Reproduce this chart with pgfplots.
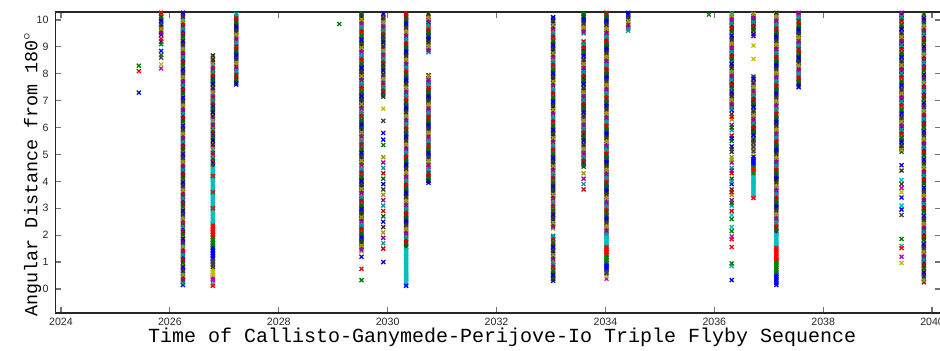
\documentclass[border=0pt]{standalone}
\usepackage{pgfplots}
\pgfplotsset{compat=1.18}
\usepackage{fontspec}
\setmainfont{Liberation Sans}
\newfontfamily\cour{Liberation Mono}
\definecolor{mb}{rgb}{0,0,1}
\definecolor{mg}{rgb}{0,0.5,0}
\definecolor{mr}{rgb}{1,0,0}
\definecolor{mc}{rgb}{0,0.75,0.75}
\definecolor{mm}{rgb}{0.75,0,0.75}
\definecolor{my}{rgb}{0.75,0.75,0}
\definecolor{mk}{rgb}{0.25,0.25,0.25}
\pgfplotsset{colormap={mlab}{rgb=(0,0,1) rgb=(0,0.5,0) rgb=(1,0,0) rgb=(0,0.75,0.75) rgb=(0.75,0,0.75) rgb=(0.75,0.75,0) rgb=(0.25,0.25,0.25)}}
\begin{document}
\begin{tikzpicture}
\begin{axis}[
 scale only axis, width=442.75pt, height=150.5pt,
 xmin=2023.899, xmax=2040.165, ymin=-0.893, ymax=10.297,
 xtick={2024,2026,...,2040}, ytick={0,1,...,10},
 tick align=inside, major tick length=3pt,
 tick style={black!55, line width=0.6pt},
 axis line style={black!85, line width=0.6pt},
 /pgf/number format/1000 sep={}, /pgf/number format/assume math mode=true,
 ticklabel style={font=\fontsize{5.3}{6}\selectfont, text=black!85},
 xticklabel style={yshift=1pt},
 xlabel={Time of Callisto-Ganymede-Perijove-Io Triple Flyby Sequence},
 ylabel={Angular Distance from 180$^{\circ}$},
 every axis x label/.style={at={([xshift=2pt,yshift=-15pt]axis description cs:0.5,0)}, anchor=base, font=\cour\fontsize{10}{12}\selectfont},
 every axis y label/.style={at={([xshift=-9pt,yshift=-5.75pt]axis description cs:0,0.5)}, rotate=90, anchor=base, font=\cour\fontsize{9.2}{11}\selectfont},
 colormap name=mlab, colormap access=piecewise constant, point meta min=0, point meta max=7,
 mark size=1.4pt,
]
\addplot[scatter, only marks, mark=x, mark options={line width=0.65pt}, point meta={mod(\coordindex,7)+0.5}] table[row sep=\\]{
x y\\
2025.84 9.45\\ 2025.84 9.6\\ 2025.84 9.75\\ 2025.84 9.9\\ 2025.84 10.05\\ 2025.84 10.2\\ 2025.84 10.3\\
2026.24 0.15\\ 2026.24 0.3\\ 2026.24 0.45\\ 2026.24 0.6\\ 2026.24 0.75\\ 2026.24 0.9\\ 2026.24 1.05\\ 2026.24 1.2\\
2026.24 1.35\\ 2026.24 1.5\\ 2026.24 1.65\\ 2026.24 1.8\\ 2026.24 1.95\\ 2026.24 2.1\\ 2026.24 2.25\\ 2026.24 2.4\\
2026.24 2.55\\ 2026.24 2.7\\ 2026.24 2.85\\ 2026.24 3\\ 2026.24 3.15\\ 2026.24 3.3\\ 2026.24 3.45\\ 2026.24 3.6\\
2026.24 3.75\\ 2026.24 3.9\\ 2026.24 4.05\\ 2026.24 4.2\\ 2026.24 4.35\\ 2026.24 4.5\\ 2026.24 4.65\\ 2026.24 4.8\\
2026.24 4.95\\ 2026.24 5.1\\ 2026.24 5.25\\ 2026.24 5.4\\ 2026.24 5.55\\ 2026.24 5.7\\ 2026.24 5.85\\ 2026.24 6\\
2026.24 6.15\\ 2026.24 6.3\\ 2026.24 6.45\\ 2026.24 6.6\\ 2026.24 6.75\\ 2026.24 6.9\\ 2026.24 7.05\\ 2026.24 7.2\\
2026.24 7.35\\ 2026.24 7.5\\ 2026.24 7.65\\ 2026.24 7.8\\ 2026.24 7.95\\ 2026.24 8.1\\ 2026.24 8.25\\ 2026.24 8.4\\
2026.24 8.55\\ 2026.24 8.7\\ 2026.24 8.85\\ 2026.24 9\\ 2026.24 9.15\\ 2026.24 9.3\\ 2026.24 9.45\\ 2026.24 9.6\\
2026.24 9.75\\ 2026.24 9.9\\ 2026.24 10.05\\ 2026.24 10.2\\ 2026.24 10.3\\
2026.79 4.55\\ 2026.79 4.7\\ 2026.79 4.85\\ 2026.79 5\\ 2026.79 5.15\\ 2026.79 5.3\\ 2026.79 5.45\\ 2026.79 5.6\\
2026.79 5.75\\ 2026.79 5.9\\ 2026.79 6.05\\ 2026.79 6.2\\ 2026.79 6.35\\ 2026.79 6.5\\ 2026.79 6.65\\ 2026.79 6.8\\
2026.79 6.95\\ 2026.79 7.1\\ 2026.79 7.25\\ 2026.79 7.4\\ 2026.79 7.55\\ 2026.79 7.7\\ 2026.79 7.85\\ 2026.79 8\\
2026.79 8.15\\ 2026.79 8.3\\ 2026.79 8.45\\ 2026.79 8.6\\ 2026.79 8.68\\
2027.22 7.6\\ 2027.22 7.75\\ 2027.22 7.9\\ 2027.22 8.05\\ 2027.22 8.2\\ 2027.22 8.35\\ 2027.22 8.5\\ 2027.22 8.65\\
2027.22 8.8\\ 2027.22 8.95\\ 2027.22 9.1\\ 2027.22 9.25\\ 2027.22 9.4\\ 2027.22 9.55\\ 2027.22 9.7\\ 2027.22 9.85\\
2027.22 10\\ 2027.22 10.15\\ 2027.22 10.3\\
2029.52 1.4\\ 2029.52 1.55\\ 2029.52 1.7\\ 2029.52 1.85\\ 2029.52 2\\ 2029.52 2.15\\ 2029.52 2.3\\ 2029.52 2.45\\
2029.52 2.6\\ 2029.52 2.75\\ 2029.52 2.9\\ 2029.52 3.05\\ 2029.52 3.2\\ 2029.52 3.35\\ 2029.52 3.5\\ 2029.52 3.65\\
2029.52 3.8\\ 2029.52 3.95\\ 2029.52 4.1\\ 2029.52 4.25\\ 2029.52 4.4\\ 2029.52 4.55\\ 2029.52 4.7\\ 2029.52 4.85\\
2029.52 5\\ 2029.52 5.15\\ 2029.52 5.3\\ 2029.52 5.45\\ 2029.52 5.6\\ 2029.52 5.75\\ 2029.52 5.9\\ 2029.52 6.05\\
2029.52 6.2\\ 2029.52 6.35\\ 2029.52 6.5\\ 2029.52 6.65\\ 2029.52 6.8\\ 2029.52 6.95\\ 2029.52 7.1\\ 2029.52 7.25\\
2029.52 7.4\\ 2029.52 7.55\\ 2029.52 7.7\\ 2029.52 7.85\\ 2029.52 8\\ 2029.52 8.15\\ 2029.52 8.3\\ 2029.52 8.45\\
2029.52 8.6\\ 2029.52 8.75\\ 2029.52 8.9\\ 2029.52 9.05\\ 2029.52 9.2\\ 2029.52 9.35\\ 2029.52 9.5\\ 2029.52 9.65\\
2029.52 9.8\\ 2029.52 9.95\\ 2029.52 10.1\\ 2029.52 10.25\\
2029.92 1.5\\ 2029.92 1.7\\ 2029.92 1.9\\ 2029.92 2.1\\ 2029.92 2.3\\ 2029.92 2.5\\ 2029.92 2.7\\ 2029.92 2.9\\
2029.92 3.1\\ 2029.92 3.3\\ 2029.92 3.5\\ 2029.92 3.7\\ 2029.92 3.9\\ 2029.92 4.1\\ 2029.92 4.3\\ 2029.92 4.5\\
2029.92 4.7\\ 2029.92 4.9\\
2029.92 7.15\\ 2029.92 7.3\\ 2029.92 7.45\\ 2029.92 7.6\\ 2029.92 7.75\\ 2029.92 7.9\\ 2029.92 8.05\\ 2029.92 8.2\\
2029.92 8.35\\ 2029.92 8.5\\ 2029.92 8.65\\ 2029.92 8.8\\ 2029.92 8.95\\ 2029.92 9.1\\ 2029.92 9.25\\ 2029.92 9.4\\
2029.92 9.55\\ 2029.92 9.7\\ 2029.92 9.85\\ 2029.92 10\\ 2029.92 10.15\\ 2029.92 10.3\\
2030.34 1.55\\ 2030.34 1.7\\ 2030.34 1.85\\ 2030.34 2\\ 2030.34 2.15\\ 2030.34 2.3\\ 2030.34 2.45\\ 2030.34 2.6\\
2030.34 2.75\\ 2030.34 2.9\\ 2030.34 3.05\\ 2030.34 3.2\\ 2030.34 3.35\\ 2030.34 3.5\\ 2030.34 3.65\\ 2030.34 3.8\\
2030.34 3.95\\ 2030.34 4.1\\ 2030.34 4.25\\ 2030.34 4.4\\ 2030.34 4.55\\ 2030.34 4.7\\ 2030.34 4.85\\ 2030.34 5\\
2030.34 5.15\\ 2030.34 5.3\\ 2030.34 5.45\\ 2030.34 5.6\\ 2030.34 5.75\\ 2030.34 5.9\\ 2030.34 6.05\\ 2030.34 6.2\\
2030.34 6.35\\ 2030.34 6.5\\ 2030.34 6.65\\ 2030.34 6.8\\ 2030.34 6.95\\ 2030.34 7.1\\ 2030.34 7.25\\ 2030.34 7.4\\
2030.34 7.55\\ 2030.34 7.7\\ 2030.34 7.85\\ 2030.34 8\\ 2030.34 8.15\\ 2030.34 8.3\\ 2030.34 8.45\\ 2030.34 8.6\\
2030.34 8.75\\ 2030.34 8.9\\ 2030.34 9.05\\ 2030.34 9.2\\ 2030.34 9.35\\ 2030.34 9.5\\ 2030.34 9.65\\ 2030.34 9.8\\
2030.34 9.95\\ 2030.34 10.1\\ 2030.34 10.25\\
2030.75 8.8\\ 2030.75 8.95\\ 2030.75 9.1\\ 2030.75 9.25\\ 2030.75 9.4\\ 2030.75 9.55\\ 2030.75 9.7\\ 2030.75 9.85\\
2030.75 10\\ 2030.75 10.15\\ 2030.75 10.3\\
2030.75 3.95\\ 2030.75 4.1\\ 2030.75 4.25\\ 2030.75 4.4\\ 2030.75 4.55\\ 2030.75 4.7\\ 2030.75 4.85\\ 2030.75 5\\
2030.75 5.15\\ 2030.75 5.3\\ 2030.75 5.45\\ 2030.75 5.6\\ 2030.75 5.75\\ 2030.75 5.9\\ 2030.75 6.05\\ 2030.75 6.2\\
2030.75 6.35\\ 2030.75 6.5\\ 2030.75 6.65\\ 2030.75 6.8\\ 2030.75 6.95\\ 2030.75 7.1\\ 2030.75 7.25\\ 2030.75 7.4\\
2030.75 7.55\\ 2030.75 7.7\\ 2030.75 7.85\\ 2030.75 7.95\\
2033.04 0.3\\ 2033.04 0.45\\ 2033.04 0.6\\ 2033.04 0.75\\ 2033.04 0.9\\ 2033.04 1.05\\ 2033.04 1.2\\ 2033.04 1.35\\
2033.04 1.5\\ 2033.04 1.65\\ 2033.04 1.8\\ 2033.04 1.95\\
2033.04 2.25\\ 2033.04 2.4\\ 2033.04 2.55\\ 2033.04 2.7\\ 2033.04 2.85\\ 2033.04 3\\ 2033.04 3.15\\ 2033.04 3.3\\
2033.04 3.45\\ 2033.04 3.6\\ 2033.04 3.75\\ 2033.04 3.9\\ 2033.04 4.05\\ 2033.04 4.2\\ 2033.04 4.35\\ 2033.04 4.5\\
2033.04 4.65\\ 2033.04 4.8\\ 2033.04 4.95\\ 2033.04 5.1\\ 2033.04 5.25\\ 2033.04 5.4\\ 2033.04 5.55\\ 2033.04 5.7\\
2033.04 5.85\\ 2033.04 6\\ 2033.04 6.15\\ 2033.04 6.3\\ 2033.04 6.45\\ 2033.04 6.6\\ 2033.04 6.75\\ 2033.04 6.9\\
2033.04 7.05\\ 2033.04 7.2\\ 2033.04 7.35\\ 2033.04 7.5\\ 2033.04 7.65\\ 2033.04 7.8\\ 2033.04 7.95\\ 2033.04 8.1\\
2033.04 8.25\\ 2033.04 8.4\\ 2033.04 8.55\\ 2033.04 8.7\\ 2033.04 8.85\\ 2033.04 9\\ 2033.04 9.15\\ 2033.04 9.3\\
2033.04 9.45\\ 2033.04 9.6\\ 2033.04 9.75\\ 2033.04 9.9\\ 2033.04 10.05\\
2033.6 3.7\\ 2033.6 3.9\\ 2033.6 4.1\\ 2033.6 4.3\\
2033.6 4.55\\ 2033.6 4.7\\ 2033.6 4.85\\ 2033.6 5\\ 2033.6 5.15\\ 2033.6 5.3\\ 2033.6 5.45\\ 2033.6 5.6\\
2033.6 5.75\\ 2033.6 5.9\\ 2033.6 6.05\\ 2033.6 6.2\\ 2033.6 6.35\\ 2033.6 6.5\\ 2033.6 6.65\\ 2033.6 6.8\\
2033.6 6.95\\ 2033.6 7.1\\ 2033.6 7.25\\ 2033.6 7.4\\ 2033.6 7.55\\ 2033.6 7.7\\ 2033.6 7.85\\ 2033.6 8\\
2033.6 8.15\\ 2033.6 8.3\\ 2033.6 8.45\\ 2033.6 8.6\\ 2033.6 8.75\\ 2033.6 8.9\\ 2033.6 9.05\\ 2033.6 9.2\\
2033.6 9.5\\ 2033.6 9.65\\ 2033.6 9.8\\ 2033.6 9.95\\ 2033.6 10.1\\ 2033.6 10.25\\
2034.02 1.95\\ 2034.02 2.1\\ 2034.02 2.25\\ 2034.02 2.4\\ 2034.02 2.55\\ 2034.02 2.7\\ 2034.02 2.85\\ 2034.02 3\\
2034.02 3.15\\ 2034.02 3.3\\ 2034.02 3.45\\ 2034.02 3.6\\ 2034.02 3.75\\ 2034.02 3.9\\ 2034.02 4.05\\ 2034.02 4.2\\
2034.02 4.35\\ 2034.02 4.5\\ 2034.02 4.65\\ 2034.02 4.8\\ 2034.02 4.95\\ 2034.02 5.1\\ 2034.02 5.25\\ 2034.02 5.4\\
2034.02 5.55\\ 2034.02 5.7\\ 2034.02 5.85\\ 2034.02 6\\ 2034.02 6.15\\ 2034.02 6.3\\ 2034.02 6.45\\ 2034.02 6.6\\
2034.02 6.75\\ 2034.02 6.9\\ 2034.02 7.05\\ 2034.02 7.2\\ 2034.02 7.35\\ 2034.02 7.5\\ 2034.02 7.65\\ 2034.02 7.8\\
2034.02 7.95\\ 2034.02 8.1\\ 2034.02 8.25\\ 2034.02 8.4\\ 2034.02 8.55\\ 2034.02 8.7\\ 2034.02 8.85\\ 2034.02 9\\
2034.02 9.15\\ 2034.02 9.3\\ 2034.02 9.45\\ 2034.02 9.6\\ 2034.02 9.75\\ 2034.02 9.9\\ 2034.02 10.05\\ 2034.02 10.2\\
2034.02 10.3\\
2034.42 9.6\\ 2034.42 9.75\\ 2034.42 9.9\\ 2034.42 10.05\\ 2034.42 10.2\\ 2034.42 10.3\\
2036.32 2.9\\ 2036.32 3.1\\ 2036.32 3.3\\ 2036.32 3.5\\ 2036.32 3.7\\ 2036.32 3.9\\ 2036.32 4.1\\ 2036.32 4.3\\
2036.32 4.5\\ 2036.32 4.7\\ 2036.32 4.9\\ 2036.32 5.1\\ 2036.32 5.3\\ 2036.32 5.5\\ 2036.32 5.7\\ 2036.32 5.9\\
2036.32 6.1\\ 2036.32 6.3\\ 2036.32 6.5\\
2036.32 6.65\\ 2036.32 6.8\\ 2036.32 6.95\\ 2036.32 7.1\\ 2036.32 7.25\\ 2036.32 7.4\\ 2036.32 7.55\\ 2036.32 7.7\\
2036.32 7.85\\ 2036.32 8\\ 2036.32 8.15\\ 2036.32 8.3\\ 2036.32 8.45\\ 2036.32 8.6\\ 2036.32 8.75\\ 2036.32 8.9\\
2036.32 9.05\\ 2036.32 9.2\\ 2036.32 9.35\\ 2036.32 9.5\\ 2036.32 9.65\\ 2036.32 9.8\\ 2036.32 9.95\\ 2036.32 10.1\\
2036.32 10.25\\
2036.72 9.4\\ 2036.72 9.55\\ 2036.72 9.7\\ 2036.72 9.85\\ 2036.72 10\\ 2036.72 10.15\\ 2036.72 10.3\\
2036.72 5.5\\ 2036.72 5.65\\ 2036.72 5.8\\ 2036.72 5.95\\ 2036.72 6.1\\ 2036.72 6.25\\ 2036.72 6.4\\ 2036.72 6.55\\
2036.72 6.7\\ 2036.72 6.85\\ 2036.72 7\\ 2036.72 7.15\\ 2036.72 7.3\\ 2036.72 7.45\\ 2036.72 7.6\\ 2036.72 7.75\\
2036.72 7.9\\
2037.14 2.1\\ 2037.14 2.25\\ 2037.14 2.4\\ 2037.14 2.55\\ 2037.14 2.7\\ 2037.14 2.85\\ 2037.14 3\\ 2037.14 3.15\\
2037.14 3.3\\ 2037.14 3.45\\ 2037.14 3.6\\ 2037.14 3.75\\ 2037.14 3.9\\ 2037.14 4.05\\ 2037.14 4.2\\ 2037.14 4.35\\
2037.14 4.5\\ 2037.14 4.65\\ 2037.14 4.8\\ 2037.14 4.95\\ 2037.14 5.1\\ 2037.14 5.25\\ 2037.14 5.4\\ 2037.14 5.55\\
2037.14 5.7\\ 2037.14 5.85\\ 2037.14 6\\ 2037.14 6.15\\ 2037.14 6.3\\ 2037.14 6.45\\ 2037.14 6.6\\ 2037.14 6.75\\
2037.14 6.9\\ 2037.14 7.05\\ 2037.14 7.2\\ 2037.14 7.35\\ 2037.14 7.5\\ 2037.14 7.65\\ 2037.14 7.8\\ 2037.14 7.95\\
2037.14 8.1\\ 2037.14 8.25\\ 2037.14 8.4\\ 2037.14 8.55\\ 2037.14 8.7\\ 2037.14 8.85\\ 2037.14 9\\ 2037.14 9.15\\
2037.14 9.3\\ 2037.14 9.45\\ 2037.14 9.6\\ 2037.14 9.75\\ 2037.14 9.9\\ 2037.14 10.05\\ 2037.14 10.2\\ 2037.14 10.3\\
2037.55 7.5\\ 2037.55 7.65\\ 2037.55 7.8\\ 2037.55 7.95\\ 2037.55 8.1\\ 2037.55 8.25\\ 2037.55 8.4\\ 2037.55 8.55\\
2037.55 8.7\\ 2037.55 8.85\\ 2037.55 9\\ 2037.55 9.15\\ 2037.55 9.3\\ 2037.55 9.45\\ 2037.55 9.6\\ 2037.55 9.75\\
2037.55 9.9\\ 2037.55 10.05\\ 2037.55 10.2\\ 2037.55 10.3\\
2039.44 4.4\\ 2039.44 4.6\\ 2039.44 5.1\\ 2039.44 5.25\\ 2039.44 5.4\\ 2039.44 5.55\\ 2039.44 5.7\\ 2039.44 5.85\\
2039.44 6\\ 2039.44 6.15\\ 2039.44 6.3\\ 2039.44 6.45\\ 2039.44 6.6\\ 2039.44 6.75\\ 2039.44 6.9\\ 2039.44 7.05\\
2039.44 7.2\\ 2039.44 7.35\\ 2039.44 7.5\\ 2039.44 7.65\\ 2039.44 7.8\\ 2039.44 7.95\\ 2039.44 8.1\\ 2039.44 8.25\\
2039.44 8.4\\ 2039.44 8.55\\ 2039.44 8.7\\ 2039.44 8.85\\ 2039.44 9\\ 2039.44 9.15\\ 2039.44 9.3\\ 2039.44 9.45\\
2039.44 9.6\\ 2039.44 9.75\\ 2039.44 9.9\\ 2039.44 10.05\\ 2039.44 10.2\\ 2039.44 10.3\\
2039.85 0.25\\ 2039.85 0.4\\ 2039.85 0.55\\ 2039.85 0.7\\ 2039.85 0.85\\ 2039.85 1\\ 2039.85 1.15\\ 2039.85 1.3\\
2039.85 1.45\\ 2039.85 1.6\\ 2039.85 1.75\\ 2039.85 1.9\\ 2039.85 2.05\\ 2039.85 2.2\\ 2039.85 2.35\\ 2039.85 2.5\\
2039.85 2.65\\ 2039.85 2.8\\ 2039.85 2.95\\ 2039.85 3.1\\ 2039.85 3.25\\ 2039.85 3.4\\ 2039.85 3.55\\ 2039.85 3.7\\
2039.85 3.85\\ 2039.85 4\\ 2039.85 4.15\\ 2039.85 4.3\\ 2039.85 4.45\\ 2039.85 4.6\\ 2039.85 4.75\\ 2039.85 4.9\\
2039.85 5.05\\ 2039.85 5.2\\ 2039.85 5.35\\ 2039.85 5.5\\ 2039.85 5.65\\ 2039.85 5.8\\ 2039.85 5.95\\ 2039.85 6.1\\
2039.85 6.25\\ 2039.85 6.4\\ 2039.85 6.55\\ 2039.85 6.7\\ 2039.85 6.85\\ 2039.85 7\\ 2039.85 7.15\\ 2039.85 7.3\\
2039.85 7.45\\ 2039.85 7.6\\ 2039.85 7.75\\ 2039.85 7.9\\ 2039.85 8.05\\ 2039.85 8.2\\ 2039.85 8.35\\ 2039.85 8.5\\
2039.85 8.65\\ 2039.85 8.8\\ 2039.85 8.95\\ 2039.85 9.1\\ 2039.85 9.25\\ 2039.85 9.4\\ 2039.85 9.55\\ 2039.85 9.7\\
2039.85 9.85\\ 2039.85 10\\ 2039.85 10.15\\ 2039.85 10.3\\
};
\addplot[scatter, only marks, mark=x, mark options={line width=0.65pt}, point meta={mod(\coordindex+4,7)+0.5}] table[row sep=\\]{
x y\\
2025.84 9.52\\ 2025.84 9.67\\ 2025.84 9.82\\ 2025.84 9.97\\ 2025.84 10.12\\ 2025.84 10.27\\
2026.24 0.22\\ 2026.24 0.37\\ 2026.24 0.52\\ 2026.24 0.67\\ 2026.24 0.82\\ 2026.24 0.97\\ 2026.24 1.12\\ 2026.24 1.27\\
2026.24 1.42\\ 2026.24 1.57\\ 2026.24 1.72\\ 2026.24 1.87\\ 2026.24 2.02\\ 2026.24 2.17\\ 2026.24 2.32\\ 2026.24 2.47\\
2026.24 2.62\\ 2026.24 2.77\\ 2026.24 2.92\\ 2026.24 3.07\\ 2026.24 3.22\\ 2026.24 3.37\\ 2026.24 3.52\\ 2026.24 3.67\\
2026.24 3.82\\ 2026.24 3.97\\ 2026.24 4.12\\ 2026.24 4.27\\ 2026.24 4.42\\ 2026.24 4.57\\ 2026.24 4.72\\ 2026.24 4.87\\
2026.24 5.02\\ 2026.24 5.17\\ 2026.24 5.32\\ 2026.24 5.47\\ 2026.24 5.62\\ 2026.24 5.77\\ 2026.24 5.92\\ 2026.24 6.07\\
2026.24 6.22\\ 2026.24 6.37\\ 2026.24 6.52\\ 2026.24 6.67\\ 2026.24 6.82\\ 2026.24 6.97\\ 2026.24 7.12\\ 2026.24 7.27\\
2026.24 7.42\\ 2026.24 7.57\\ 2026.24 7.72\\ 2026.24 7.87\\ 2026.24 8.02\\ 2026.24 8.17\\ 2026.24 8.32\\ 2026.24 8.47\\
2026.24 8.62\\ 2026.24 8.77\\ 2026.24 8.92\\ 2026.24 9.07\\ 2026.24 9.22\\ 2026.24 9.37\\ 2026.24 9.52\\ 2026.24 9.67\\
2026.24 9.82\\ 2026.24 9.97\\ 2026.24 10.12\\ 2026.24 10.27\\
2026.79 4.62\\ 2026.79 4.77\\ 2026.79 4.92\\ 2026.79 5.07\\ 2026.79 5.22\\ 2026.79 5.37\\ 2026.79 5.52\\ 2026.79 5.67\\
2026.79 5.82\\ 2026.79 5.97\\ 2026.79 6.12\\ 2026.79 6.27\\ 2026.79 6.42\\ 2026.79 6.57\\ 2026.79 6.72\\ 2026.79 6.87\\
2026.79 7.02\\ 2026.79 7.17\\ 2026.79 7.32\\ 2026.79 7.47\\ 2026.79 7.62\\ 2026.79 7.77\\ 2026.79 7.92\\ 2026.79 8.07\\
2026.79 8.22\\ 2026.79 8.37\\ 2026.79 8.52\\
2027.22 7.67\\ 2027.22 7.82\\ 2027.22 7.97\\ 2027.22 8.12\\ 2027.22 8.27\\ 2027.22 8.42\\ 2027.22 8.57\\ 2027.22 8.72\\
2027.22 8.87\\ 2027.22 9.02\\ 2027.22 9.17\\ 2027.22 9.32\\ 2027.22 9.47\\ 2027.22 9.62\\ 2027.22 9.77\\ 2027.22 9.92\\
2027.22 10.07\\ 2027.22 10.22\\
2029.52 1.47\\ 2029.52 1.62\\ 2029.52 1.77\\ 2029.52 1.92\\ 2029.52 2.07\\ 2029.52 2.22\\ 2029.52 2.37\\ 2029.52 2.52\\
2029.52 2.67\\ 2029.52 2.82\\ 2029.52 2.97\\ 2029.52 3.12\\ 2029.52 3.27\\ 2029.52 3.42\\ 2029.52 3.57\\ 2029.52 3.72\\
2029.52 3.87\\ 2029.52 4.02\\ 2029.52 4.17\\ 2029.52 4.32\\ 2029.52 4.47\\ 2029.52 4.62\\ 2029.52 4.77\\ 2029.52 4.92\\
2029.52 5.07\\ 2029.52 5.22\\ 2029.52 5.37\\ 2029.52 5.52\\ 2029.52 5.67\\ 2029.52 5.82\\ 2029.52 5.97\\ 2029.52 6.12\\
2029.52 6.27\\ 2029.52 6.42\\ 2029.52 6.57\\ 2029.52 6.72\\ 2029.52 6.87\\ 2029.52 7.02\\ 2029.52 7.17\\ 2029.52 7.32\\
2029.52 7.47\\ 2029.52 7.62\\ 2029.52 7.77\\ 2029.52 7.92\\ 2029.52 8.07\\ 2029.52 8.22\\ 2029.52 8.37\\ 2029.52 8.52\\
2029.52 8.67\\ 2029.52 8.82\\ 2029.52 8.97\\ 2029.52 9.12\\ 2029.52 9.27\\ 2029.52 9.42\\ 2029.52 9.57\\ 2029.52 9.72\\
2029.52 9.87\\ 2029.52 10.02\\ 2029.52 10.17\\ 2029.52 10.3\\
2029.92 7.22\\ 2029.92 7.37\\ 2029.92 7.52\\ 2029.92 7.67\\ 2029.92 7.82\\ 2029.92 7.97\\ 2029.92 8.12\\ 2029.92 8.27\\
2029.92 8.42\\ 2029.92 8.57\\ 2029.92 8.72\\ 2029.92 8.87\\ 2029.92 9.02\\ 2029.92 9.17\\ 2029.92 9.32\\ 2029.92 9.47\\
2029.92 9.62\\ 2029.92 9.77\\ 2029.92 9.92\\ 2029.92 10.07\\ 2029.92 10.22\\
2030.34 1.62\\ 2030.34 1.77\\ 2030.34 1.92\\ 2030.34 2.07\\ 2030.34 2.22\\ 2030.34 2.37\\ 2030.34 2.52\\
2030.34 2.67\\ 2030.34 2.82\\ 2030.34 2.97\\ 2030.34 3.12\\ 2030.34 3.27\\ 2030.34 3.42\\ 2030.34 3.57\\ 2030.34 3.72\\
2030.34 3.87\\ 2030.34 4.02\\ 2030.34 4.17\\ 2030.34 4.32\\ 2030.34 4.47\\ 2030.34 4.62\\ 2030.34 4.77\\ 2030.34 4.92\\
2030.34 5.07\\ 2030.34 5.22\\ 2030.34 5.37\\ 2030.34 5.52\\ 2030.34 5.67\\ 2030.34 5.82\\ 2030.34 5.97\\ 2030.34 6.12\\
2030.34 6.27\\ 2030.34 6.42\\ 2030.34 6.57\\ 2030.34 6.72\\ 2030.34 6.87\\ 2030.34 7.02\\ 2030.34 7.17\\ 2030.34 7.32\\
2030.34 7.47\\ 2030.34 7.62\\ 2030.34 7.77\\ 2030.34 7.92\\ 2030.34 8.07\\ 2030.34 8.22\\ 2030.34 8.37\\ 2030.34 8.52\\
2030.34 8.67\\ 2030.34 8.82\\ 2030.34 8.97\\ 2030.34 9.12\\ 2030.34 9.27\\ 2030.34 9.42\\ 2030.34 9.57\\ 2030.34 9.72\\
2030.34 9.87\\ 2030.34 10.02\\ 2030.34 10.17\\ 2030.34 10.3\\
2030.75 8.87\\ 2030.75 9.02\\ 2030.75 9.17\\ 2030.75 9.32\\ 2030.75 9.47\\ 2030.75 9.62\\ 2030.75 9.77\\ 2030.75 9.92\\
2030.75 10.07\\ 2030.75 10.22\\
2030.75 4.02\\ 2030.75 4.17\\ 2030.75 4.32\\ 2030.75 4.47\\ 2030.75 4.62\\ 2030.75 4.77\\ 2030.75 4.92\\ 2030.75 5.07\\
2030.75 5.22\\ 2030.75 5.37\\ 2030.75 5.52\\ 2030.75 5.67\\ 2030.75 5.82\\ 2030.75 5.97\\ 2030.75 6.12\\ 2030.75 6.27\\
2030.75 6.42\\ 2030.75 6.57\\ 2030.75 6.72\\ 2030.75 6.87\\ 2030.75 7.02\\ 2030.75 7.17\\ 2030.75 7.32\\ 2030.75 7.47\\
2030.75 7.62\\ 2030.75 7.77\\ 2030.75 7.92\\
2033.04 0.37\\ 2033.04 0.52\\ 2033.04 0.67\\ 2033.04 0.82\\ 2033.04 0.97\\ 2033.04 1.12\\ 2033.04 1.27\\ 2033.04 1.42\\
2033.04 1.57\\ 2033.04 1.72\\ 2033.04 1.87\\ 2033.04 1.98\\
2033.04 2.32\\ 2033.04 2.47\\ 2033.04 2.62\\ 2033.04 2.77\\ 2033.04 2.92\\ 2033.04 3.07\\ 2033.04 3.22\\ 2033.04 3.37\\
2033.04 3.52\\ 2033.04 3.67\\ 2033.04 3.82\\ 2033.04 3.97\\ 2033.04 4.12\\ 2033.04 4.27\\ 2033.04 4.42\\ 2033.04 4.57\\
2033.04 4.72\\ 2033.04 4.87\\ 2033.04 5.02\\ 2033.04 5.17\\ 2033.04 5.32\\ 2033.04 5.47\\ 2033.04 5.62\\ 2033.04 5.77\\
2033.04 5.92\\ 2033.04 6.07\\ 2033.04 6.22\\ 2033.04 6.37\\ 2033.04 6.52\\ 2033.04 6.67\\ 2033.04 6.82\\ 2033.04 6.97\\
2033.04 7.12\\ 2033.04 7.27\\ 2033.04 7.42\\ 2033.04 7.57\\ 2033.04 7.72\\ 2033.04 7.87\\ 2033.04 8.02\\ 2033.04 8.17\\
2033.04 8.32\\ 2033.04 8.47\\ 2033.04 8.62\\ 2033.04 8.77\\ 2033.04 8.92\\ 2033.04 9.07\\ 2033.04 9.22\\ 2033.04 9.37\\
2033.04 9.52\\ 2033.04 9.67\\ 2033.04 9.82\\ 2033.04 9.97\\ 2033.04 10.1\\
2033.6 4.62\\ 2033.6 4.77\\ 2033.6 4.92\\ 2033.6 5.07\\ 2033.6 5.22\\ 2033.6 5.37\\ 2033.6 5.52\\ 2033.6 5.67\\
2033.6 5.82\\ 2033.6 5.97\\ 2033.6 6.12\\ 2033.6 6.27\\ 2033.6 6.42\\ 2033.6 6.57\\ 2033.6 6.72\\ 2033.6 6.87\\
2033.6 7.02\\ 2033.6 7.17\\ 2033.6 7.32\\ 2033.6 7.47\\ 2033.6 7.62\\ 2033.6 7.77\\ 2033.6 7.92\\ 2033.6 8.07\\
2033.6 8.22\\ 2033.6 8.37\\ 2033.6 8.52\\ 2033.6 8.67\\ 2033.6 8.82\\ 2033.6 8.97\\ 2033.6 9.12\\
2033.6 9.57\\ 2033.6 9.72\\ 2033.6 9.87\\ 2033.6 10.02\\ 2033.6 10.17\\ 2033.6 10.3\\
2034.02 2.02\\ 2034.02 2.17\\ 2034.02 2.32\\ 2034.02 2.47\\ 2034.02 2.62\\ 2034.02 2.77\\ 2034.02 2.92\\ 2034.02 3.07\\
2034.02 3.22\\ 2034.02 3.37\\ 2034.02 3.52\\ 2034.02 3.67\\ 2034.02 3.82\\ 2034.02 3.97\\ 2034.02 4.12\\ 2034.02 4.27\\
2034.02 4.42\\ 2034.02 4.57\\ 2034.02 4.72\\ 2034.02 4.87\\ 2034.02 5.02\\ 2034.02 5.17\\ 2034.02 5.32\\ 2034.02 5.47\\
2034.02 5.62\\ 2034.02 5.77\\ 2034.02 5.92\\ 2034.02 6.07\\ 2034.02 6.22\\ 2034.02 6.37\\ 2034.02 6.52\\ 2034.02 6.67\\
2034.02 6.82\\ 2034.02 6.97\\ 2034.02 7.12\\ 2034.02 7.27\\ 2034.02 7.42\\ 2034.02 7.57\\ 2034.02 7.72\\ 2034.02 7.87\\
2034.02 8.02\\ 2034.02 8.17\\ 2034.02 8.32\\ 2034.02 8.47\\ 2034.02 8.62\\ 2034.02 8.77\\ 2034.02 8.92\\ 2034.02 9.07\\
2034.02 9.22\\ 2034.02 9.37\\ 2034.02 9.52\\ 2034.02 9.67\\ 2034.02 9.82\\ 2034.02 9.97\\ 2034.02 10.12\\ 2034.02 10.27\\
2034.42 9.67\\ 2034.42 9.82\\ 2034.42 9.97\\ 2034.42 10.12\\ 2034.42 10.27\\
2036.32 3.2\\ 2036.32 3.6\\ 2036.32 4\\ 2036.32 4.4\\ 2036.32 4.8\\ 2036.32 5.2\\ 2036.32 5.6\\ 2036.32 6\\ 2036.32 6.4\\
2036.32 6.72\\ 2036.32 6.87\\ 2036.32 7.02\\ 2036.32 7.17\\ 2036.32 7.32\\ 2036.32 7.47\\ 2036.32 7.62\\ 2036.32 7.77\\
2036.32 7.92\\ 2036.32 8.07\\ 2036.32 8.22\\ 2036.32 8.37\\ 2036.32 8.52\\ 2036.32 8.67\\ 2036.32 8.82\\ 2036.32 8.97\\
2036.32 9.12\\ 2036.32 9.27\\ 2036.32 9.42\\ 2036.32 9.57\\ 2036.32 9.72\\ 2036.32 9.87\\ 2036.32 10.02\\ 2036.32 10.17\\
2036.32 10.3\\
2036.72 9.47\\ 2036.72 9.62\\ 2036.72 9.77\\ 2036.72 9.92\\ 2036.72 10.07\\ 2036.72 10.22\\
2036.72 5.57\\ 2036.72 5.72\\ 2036.72 5.87\\ 2036.72 6.02\\ 2036.72 6.17\\ 2036.72 6.32\\ 2036.72 6.47\\ 2036.72 6.62\\
2036.72 6.77\\ 2036.72 6.92\\ 2036.72 7.07\\ 2036.72 7.22\\ 2036.72 7.37\\ 2036.72 7.52\\ 2036.72 7.67\\ 2036.72 7.82\\
2037.14 2.17\\ 2037.14 2.32\\ 2037.14 2.47\\ 2037.14 2.62\\ 2037.14 2.77\\ 2037.14 2.92\\ 2037.14 3.07\\ 2037.14 3.22\\
2037.14 3.37\\ 2037.14 3.52\\ 2037.14 3.67\\ 2037.14 3.82\\ 2037.14 3.97\\ 2037.14 4.12\\ 2037.14 4.27\\ 2037.14 4.42\\
2037.14 4.57\\ 2037.14 4.72\\ 2037.14 4.87\\ 2037.14 5.02\\ 2037.14 5.17\\ 2037.14 5.32\\ 2037.14 5.47\\ 2037.14 5.62\\
2037.14 5.77\\ 2037.14 5.92\\ 2037.14 6.07\\ 2037.14 6.22\\ 2037.14 6.37\\ 2037.14 6.52\\ 2037.14 6.67\\ 2037.14 6.82\\
2037.14 6.97\\ 2037.14 7.12\\ 2037.14 7.27\\ 2037.14 7.42\\ 2037.14 7.57\\ 2037.14 7.72\\ 2037.14 7.87\\ 2037.14 8.02\\
2037.14 8.17\\ 2037.14 8.32\\ 2037.14 8.47\\ 2037.14 8.62\\ 2037.14 8.77\\ 2037.14 8.92\\ 2037.14 9.07\\ 2037.14 9.22\\
2037.14 9.37\\ 2037.14 9.52\\ 2037.14 9.67\\ 2037.14 9.82\\ 2037.14 9.97\\ 2037.14 10.12\\ 2037.14 10.27\\
2037.55 7.57\\ 2037.55 7.72\\ 2037.55 7.87\\ 2037.55 8.02\\ 2037.55 8.17\\ 2037.55 8.32\\ 2037.55 8.47\\ 2037.55 8.62\\
2037.55 8.77\\ 2037.55 8.92\\ 2037.55 9.07\\ 2037.55 9.22\\ 2037.55 9.37\\ 2037.55 9.52\\ 2037.55 9.67\\ 2037.55 9.82\\
2037.55 9.97\\ 2037.55 10.12\\ 2037.55 10.27\\
2039.44 5.17\\ 2039.44 5.32\\ 2039.44 5.47\\ 2039.44 5.62\\ 2039.44 5.77\\ 2039.44 5.92\\ 2039.44 6.07\\ 2039.44 6.22\\
2039.44 6.37\\ 2039.44 6.52\\ 2039.44 6.67\\ 2039.44 6.82\\ 2039.44 6.97\\ 2039.44 7.12\\ 2039.44 7.27\\ 2039.44 7.42\\
2039.44 7.57\\ 2039.44 7.72\\ 2039.44 7.87\\ 2039.44 8.02\\ 2039.44 8.17\\ 2039.44 8.32\\ 2039.44 8.47\\ 2039.44 8.62\\
2039.44 8.77\\ 2039.44 8.92\\ 2039.44 9.07\\ 2039.44 9.22\\ 2039.44 9.37\\ 2039.44 9.52\\ 2039.44 9.67\\ 2039.44 9.82\\
2039.44 9.97\\ 2039.44 10.12\\ 2039.44 10.27\\
2039.85 0.32\\ 2039.85 0.47\\ 2039.85 0.62\\ 2039.85 0.77\\ 2039.85 0.92\\ 2039.85 1.07\\ 2039.85 1.22\\ 2039.85 1.37\\
2039.85 1.52\\ 2039.85 1.67\\ 2039.85 1.82\\ 2039.85 1.97\\ 2039.85 2.12\\ 2039.85 2.27\\ 2039.85 2.42\\ 2039.85 2.57\\
2039.85 2.72\\ 2039.85 2.87\\ 2039.85 3.02\\ 2039.85 3.17\\ 2039.85 3.32\\ 2039.85 3.47\\ 2039.85 3.62\\ 2039.85 3.77\\
2039.85 3.92\\ 2039.85 4.07\\ 2039.85 4.22\\ 2039.85 4.37\\ 2039.85 4.52\\ 2039.85 4.67\\ 2039.85 4.82\\ 2039.85 4.97\\
2039.85 5.12\\ 2039.85 5.27\\ 2039.85 5.42\\ 2039.85 5.57\\ 2039.85 5.72\\ 2039.85 5.87\\ 2039.85 6.02\\ 2039.85 6.17\\
2039.85 6.32\\ 2039.85 6.47\\ 2039.85 6.62\\ 2039.85 6.77\\ 2039.85 6.92\\ 2039.85 7.07\\ 2039.85 7.22\\ 2039.85 7.37\\
2039.85 7.52\\ 2039.85 7.67\\ 2039.85 7.82\\ 2039.85 7.97\\ 2039.85 8.12\\ 2039.85 8.27\\ 2039.85 8.42\\ 2039.85 8.57\\
2039.85 8.72\\ 2039.85 8.87\\ 2039.85 9.02\\ 2039.85 9.17\\ 2039.85 9.32\\ 2039.85 9.47\\ 2039.85 9.62\\ 2039.85 9.77\\
2039.85 9.92\\ 2039.85 10.07\\ 2039.85 10.22\\
};
% cyan blocks
\addplot[only marks, mark=x, mc, mark options={line width=0.65pt}] coordinates {
(2026.79,2.45)(2026.79,2.52)(2026.79,2.59)(2026.79,2.66)(2026.79,2.73)(2026.79,2.8)(2026.79,2.87)(2026.79,2.94)
(2026.79,3.01)(2026.79,3.08)(2026.79,3.15)(2026.79,3.22)(2026.79,3.29)(2026.79,3.36)(2026.79,3.43)(2026.79,3.5)
(2026.79,3.57)(2026.79,3.64)(2026.79,3.71)(2026.79,3.78)(2026.79,3.85)(2026.79,3.92)(2026.79,3.99)(2026.79,4.06)
(2026.79,4.13)(2026.79,4.2)(2026.79,4.27)(2026.79,4.34)(2026.79,4.41)(2026.79,4.48)(2026.79,0.2)
(2030.34,0.2)(2030.34,0.27)(2030.34,0.34)(2030.34,0.41)(2030.34,0.48)(2030.34,0.55)(2030.34,0.62)(2030.34,0.69)
(2030.34,0.76)(2030.34,0.83)(2030.34,0.9)(2030.34,0.97)(2030.34,1.04)(2030.34,1.11)(2030.34,1.18)(2030.34,1.25)
(2030.34,1.32)(2030.34,1.39)(2030.34,1.46)
(2034.02,1.62)(2034.02,1.68)(2034.02,1.74)(2034.02,1.8)(2034.02,1.86)(2034.02,1.92)
(2036.32,0.85)(2036.32,2.3)(2036.32,2.75)
(2036.72,3.45)(2036.72,3.52)(2036.72,3.59)(2036.72,3.66)(2036.72,3.73)(2036.72,3.8)(2036.72,3.87)(2036.72,3.94)
(2036.72,4.01)(2036.72,4.08)(2036.72,4.15)(2036.72,4.22)
(2037.14,1.6)(2037.14,1.67)(2037.14,1.74)(2037.14,1.81)(2037.14,1.88)(2037.14,1.95)(2037.14,2.02)
(2039.44,4.05)(2039.44,3.1)(2039.44,1.6)
};
\addplot[only marks, mark=x, mb, mark options={line width=0.65pt}] coordinates {
(2025.43,7.3)(2025.84,8.85)(2025.84,9.2)
(2026.79,1.1)(2026.79,1.16)(2026.79,1.22)(2026.79,1.28)(2026.79,1.34)(2026.79,1.4)(2026.79,1.46)(2026.79,1.52)(2026.79,1.58)
(2029.52,1.2)(2029.92,1.0)(2029.92,5.55)(2029.92,5.8)(2030.34,0.12)
(2034.02,0.72)(2034.02,0.78)(2034.02,0.84)(2034.02,0.9)(2034.02,0.96)
(2036.32,0.33)
(2036.72,4.6)(2036.72,4.68)(2036.72,4.76)(2036.72,4.84)(2036.72,4.92)
(2037.14,0.15)(2037.14,0.22)(2037.14,0.29)(2037.14,0.36)(2037.14,0.43)(2037.14,0.5)(2037.14,0.57)
(2039.44,3.4)(2039.44,2.95)
};
\addplot[only marks, mark=x, mg, mark options={line width=0.65pt}] coordinates {
(2025.43,8.3)(2025.84,8.7)(2025.84,9.1)
(2026.79,1.64)(2026.79,1.7)(2026.79,1.76)(2026.79,1.82)(2026.79,1.88)(2026.79,1.94)
(2029.11,9.85)(2029.52,0.33)(2029.92,5.35)
(2034.02,1.02)(2034.02,1.08)(2034.02,1.14)(2034.02,1.2)(2034.02,1.26)
(2035.9,10.2)(2036.32,0.95)(2036.32,2.15)(2036.32,2.6)
(2036.72,4.3)(2036.72,4.38)(2036.72,4.52)
(2037.14,0.62)(2037.14,0.69)(2037.14,0.76)(2037.14,0.83)(2037.14,0.9)(2037.14,0.97)(2037.14,1.04)
(2039.44,1.86)
};
\addplot[only marks, mark=x, mr, mark options={line width=0.65pt}] coordinates {
(2025.43,8.1)(2025.84,9.3)
(2026.79,2.0)(2026.79,2.06)(2026.79,2.12)(2026.79,2.18)(2026.79,2.24)(2026.79,2.3)(2026.79,2.36)(2026.79,0.12)
(2026.79,3.0)(2026.79,3.6)(2026.79,4.2)
(2029.52,0.75)
(2034.02,1.32)(2034.02,1.38)(2034.02,1.44)(2034.02,1.5)(2034.02,1.56)
(2036.32,1.56)(2036.32,1.85)
(2036.72,3.38)(2036.72,4.45)
(2037.14,1.11)(2037.14,1.18)(2037.14,1.25)(2037.14,1.32)(2037.14,1.39)(2037.14,1.46)(2037.14,1.53)
(2039.44,1.52)
};
\addplot[only marks, mark=x, mm, mark options={line width=0.65pt}] coordinates {
(2025.84,8.2)(2026.79,0.32)(2026.79,0.38)(2026.79,0.44)(2034.02,0.38)(2036.32,1.95)(2039.44,1.2)(2039.44,3.75)
};
\addplot[only marks, mark=x, my, mark options={line width=0.65pt}] coordinates {
(2025.84,8.35)(2026.79,0.52)(2026.79,0.58)(2026.79,0.64)(2026.79,0.7)(2026.79,0.76)(2029.92,6.7)(2034.02,0.48)
(2036.72,9.05)(2036.72,8.55)(2036.72,5.05)(2036.72,5.2)(2036.72,5.35)(2039.44,0.97)(2039.44,3.6)
};
\addplot[only marks, mark=x, mk, mark options={line width=0.65pt}] coordinates {
(2025.84,8.6)(2026.79,0.82)(2026.79,0.88)(2026.79,0.94)(2026.79,1.0)(2026.79,1.06)(2029.92,6.25)(2034.02,0.58)(2034.02,0.64)
(2036.72,5.12)(2036.72,5.28)(2036.72,5.43)(2039.44,2.75)(2039.44,3.9)
};
\end{axis}
\pgfresetboundingbox
\useasboundingbox ([shift={(-27.75pt,-19pt)}]current axis.south west) rectangle ([shift={(-0.5pt,6pt)}]current axis.north east);
\end{tikzpicture}
\end{document}
